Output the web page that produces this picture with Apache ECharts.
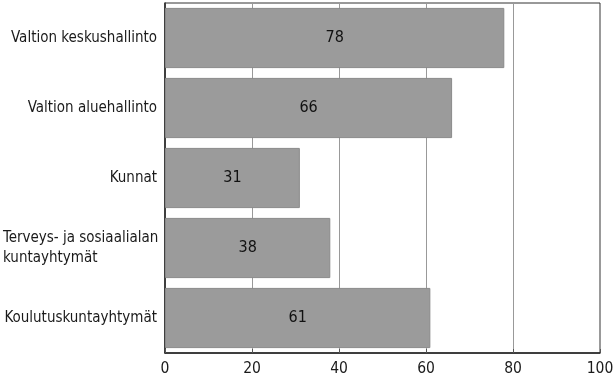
<!DOCTYPE html>
<html><head><meta charset="utf-8">
<script src="https://cdn.jsdelivr.net/npm/echarts@6/dist/echarts.min.js"></script>
<style>html,body{margin:0;padding:0;background:#fff}#c{width:615px;height:381px}</style>
</head><body><div id="c"></div>
<script>
var categories = ["Valtion keskushallinto", "Valtion aluehallinto", "Kunnat", "Terveys- ja sosiaalialan\nkuntayhtymät", "Koulutuskuntayhtymät"];
var values = [78, 66, 31, 38, 61];
var xTicks = [0, 20, 40, 60, 80, 100];

var chart = echarts.init(document.getElementById('c'));
var font = '"Liberation Sans Narrow", "DejaVu Sans Condensed", sans-serif';
chart.setOption({
  animation: false,
  grid: {left: 165, right: 15, top: 3, bottom: 28, show: true, borderColor: '#333', borderWidth: 1,
         containLabel: false, outerBoundsMode: 'none'},
  xAxis: {
    type: 'value', min: xTicks[0], max: xTicks[xTicks.length-1], interval: 20,
    axisLine: {show: true, lineStyle: {color: '#222', width: 1.5}},
    axisTick: {show: true, inside: true, length: 4, lineStyle: {color: '#555'}},
    splitLine: {show: true, lineStyle: {color: '#999', width: 1}},
    axisLabel: {color: '#1a1a1a', fontFamily: font, fontSize: 15.5, margin: 8}
  },
  yAxis: {
    type: 'category', data: categories, inverse: true,
    axisLine: {show: true, lineStyle: {color: '#222', width: 1.5}},
    axisTick: {show: false},
    axisLabel: {
      color: '#1a1a1a', fontFamily: font, fontSize: 15, margin: 8, lineHeight: 20,
      formatter: function (v) {
        if (v.indexOf('\n') >= 0) {
          return v.split('\n').map(function (s) { return '{l|' + s + '}'; }).join('\n');
        }
        return v;
      },
      rich: {l: {width: 154, align: 'left', fontFamily: font, fontSize: 15, color: '#1a1a1a', lineHeight: 20}}
    }
  },
  series: [{
    type: 'bar', data: values, barCategoryGap: '14%',
    itemStyle: {color: '#9b9b9b', borderColor: '#8a8a8a', borderWidth: 1},
    label: {show: true, position: 'inside', color: '#111', fontFamily: font, fontSize: 16}
  }]
});
</script></body></html>
